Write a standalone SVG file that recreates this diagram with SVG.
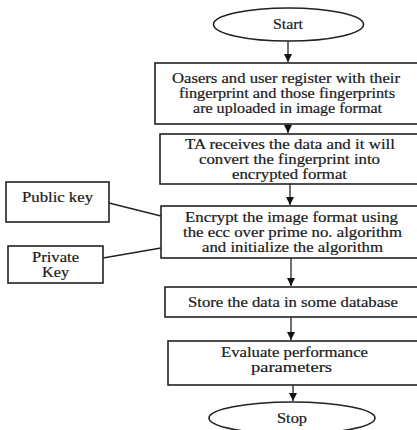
<svg xmlns="http://www.w3.org/2000/svg" width="417" height="430" viewBox="0 0 417 430">
<style>
.box{fill:#fff;stroke:#222;stroke-width:1.6}
.t{font-family:"Liberation Serif","Times New Roman",serif;font-size:14px;fill:#1a1a1a;text-anchor:middle;stroke:#1a1a1a;stroke-width:0.2}
.c{stroke:#222;stroke-width:1.3;fill:none}
</style>
<defs>
<marker id="ah" viewBox="0 0 10 10" refX="10" refY="5" markerWidth="8" markerHeight="8" markerUnits="userSpaceOnUse" orient="auto">
<path d="M0,0 L10,5 L0,10 z" fill="#111"/>
</marker>
</defs>
<rect width="417" height="430" fill="#fff"/>
<g id="connectors">
<line class="c" x1="288" y1="41" x2="288" y2="62" marker-end="url(#ah)"/>
<line class="c" x1="288" y1="124" x2="288" y2="133" marker-end="url(#ah)"/>
<line class="c" x1="290" y1="184" x2="290" y2="205" marker-end="url(#ah)"/>
<line class="c" x1="291" y1="258" x2="291" y2="286" marker-end="url(#ah)"/>
<line class="c" x1="291" y1="317" x2="291" y2="340" marker-end="url(#ah)"/>
<line class="c" x1="293" y1="385" x2="293" y2="401" marker-end="url(#ah)"/>
<line class="c" x1="109" y1="203" x2="161" y2="216"/>
<line class="c" x1="103" y1="258" x2="161" y2="248"/>
</g>
<g id="start">
<ellipse class="box" cx="288.5" cy="24.5" rx="75" ry="16.5"/>
<text class="t" x="288" y="29" textLength="30" lengthAdjust="spacingAndGlyphs">Start</text>
</g>
<g id="register">
<rect class="box" x="155" y="63" width="270" height="61"/>
<text class="t" x="286" y="83" textLength="228" lengthAdjust="spacingAndGlyphs">Oasers and user register with their</text>
<text class="t" x="287" y="98" textLength="216" lengthAdjust="spacingAndGlyphs">fingerprint and those fingerprints</text>
<text class="t" x="287.5" y="113" textLength="189" lengthAdjust="spacingAndGlyphs">are uploaded in image format</text>
</g>
<g id="convert">
<rect class="box" x="160" y="134" width="265" height="50"/>
<text class="t" x="290" y="148.5" textLength="210" lengthAdjust="spacingAndGlyphs">TA receives the data and it will</text>
<text class="t" x="289.5" y="163.5" textLength="181" lengthAdjust="spacingAndGlyphs">convert the fingerprint into</text>
<text class="t" x="289.5" y="178.5" textLength="115" lengthAdjust="spacingAndGlyphs">encrypted format</text>
</g>
<g id="encrypt">
<rect class="box" x="161" y="206" width="264" height="52"/>
<text class="t" x="291.5" y="222" textLength="213" lengthAdjust="spacingAndGlyphs">Encrypt the image format using</text>
<text class="t" x="292.5" y="237" textLength="219" lengthAdjust="spacingAndGlyphs">the ecc over prime no. algorithm</text>
<text class="t" x="292.5" y="252" textLength="181" lengthAdjust="spacingAndGlyphs">and initialize the algorithm</text>
</g>
<g id="publickey">
<rect class="box" x="6" y="182" width="103" height="40"/>
<text class="t" x="57.5" y="202" textLength="71" lengthAdjust="spacingAndGlyphs">Public key</text>
</g>
<g id="privatekey">
<rect class="box" x="8" y="246" width="95" height="37"/>
<text class="t" x="55.5" y="262" textLength="47" lengthAdjust="spacingAndGlyphs">Private</text>
<text class="t" x="55.5" y="277" textLength="27" lengthAdjust="spacingAndGlyphs">Key</text>
</g>
<g id="store">
<rect class="box" x="165" y="287" width="260" height="30"/>
<text class="t" x="293" y="306.5" textLength="210" lengthAdjust="spacingAndGlyphs">Store the data in some database</text>
</g>
<g id="evaluate">
<rect class="box" x="168" y="341" width="257" height="44"/>
<text class="t" x="294.5" y="356.5" textLength="147" lengthAdjust="spacingAndGlyphs">Evaluate performance</text>
<text class="t" x="291.5" y="371.5" textLength="81" lengthAdjust="spacingAndGlyphs">parameters</text>
</g>
<g id="stop">
<ellipse class="box" cx="292" cy="418" rx="83" ry="16"/>
<text class="t" x="292" y="422.5" textLength="30" lengthAdjust="spacingAndGlyphs">Stop</text>
</g>
</svg>
